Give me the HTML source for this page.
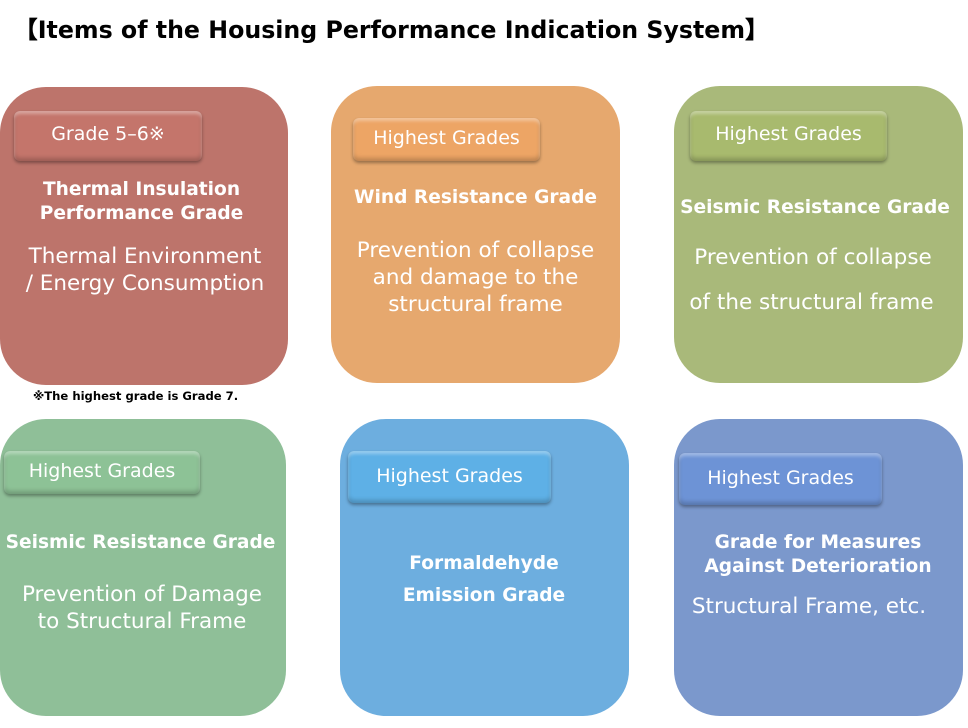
<!DOCTYPE html>
<html><head><style>
body{margin:0;width:968px;height:728px;background:#fff;position:relative;overflow:hidden;font-family:"DejaVu Sans","Liberation Sans",sans-serif}
.b{position:absolute;border-radius:46px}
.btn{position:absolute;border-radius:6px;color:#fff;font-size:19px;text-align:center;box-shadow:0 2px 3px rgba(0,0,0,.35),inset 0 3px 3px rgba(255,255,255,.35),inset 0 -3px 4px rgba(0,0,0,.2)}
.t{position:absolute;color:#fff;text-align:center;white-space:nowrap}
.bd{font-weight:bold;font-size:18.6px;line-height:24px}
.n{font-size:21.5px;line-height:27px}
</style></head><body>
<div class="t" style="left:14px;top:11px;color:#000;font-weight:bold;font-size:23.7px;text-align:left">【Items of the Housing Performance Indication System】</div>

<div class="b" style="left:0;top:87px;width:288px;height:298px;background:#bd746b"></div>
<div class="btn" style="left:14px;top:111px;width:188px;height:50px;line-height:46px;background:#c4756b">Grade 5–6※</div>
<div class="t bd" style="left:0;top:178px;width:283px">Thermal Insulation<br>Performance Grade</div>
<div class="t n" style="left:0;top:243px;width:290px">Thermal Environment<br>/ Energy Consumption</div>
<div class="t" style="left:33px;top:389px;color:#000;font-weight:bold;font-size:11.6px">※The highest grade is Grade 7.</div>

<div class="b" style="left:331px;top:86px;width:289px;height:297px;background:#e6a86e"></div>
<div class="btn" style="left:353px;top:118px;width:187px;height:43px;line-height:41px;background:#eda565">Highest Grades</div>
<div class="t bd" style="left:331px;top:186px;width:289px">Wind Resistance Grade</div>
<div class="t n" style="left:331px;top:237px;width:289px">Prevention of collapse<br>and damage to the<br>structural frame</div>

<div class="b" style="left:674px;top:86px;width:289px;height:297px;background:#a9b97a"></div>
<div class="btn" style="left:690px;top:111px;width:197px;height:50px;line-height:46px;background:#a8ba6e">Highest Grades</div>
<div class="t bd" style="left:674px;top:196px;width:282px">Seismic Resistance Grade</div>
<div class="t n" style="left:674px;top:244px;width:278px">Prevention of collapse</div>
<div class="t n" style="left:674px;top:289px;width:275px">of the structural frame</div>

<div class="b" style="left:0;top:419px;width:286px;height:297px;background:#8fbf98"></div>
<div class="btn" style="left:4px;top:451px;width:196px;height:43px;line-height:41px;background:#8dc296">Highest Grades</div>
<div class="t bd" style="left:0;top:531px;width:281px">Seismic Resistance Grade</div>
<div class="t n" style="left:0;top:581px;width:284px">Prevention of Damage<br>to Structural Frame</div>

<div class="b" style="left:340px;top:419px;width:289px;height:297px;background:#6daedf"></div>
<div class="btn" style="left:348px;top:451px;width:203px;height:52px;line-height:50px;background:#5eb0e6">Highest Grades</div>
<div class="t bd" style="left:340px;top:548px;width:288px;line-height:32px">Formaldehyde<br>Emission Grade</div>

<div class="b" style="left:674px;top:419px;width:289px;height:297px;background:#7b98cc"></div>
<div class="btn" style="left:679px;top:453px;width:203px;height:52px;line-height:50px;background:#6d93d6">Highest Grades</div>
<div class="t bd" style="left:674px;top:531px;width:288px">Grade for Measures<br>Against Deterioration</div>
<div class="t n" style="left:674px;top:593px;width:270px">Structural Frame, etc.</div>
</body></html>
